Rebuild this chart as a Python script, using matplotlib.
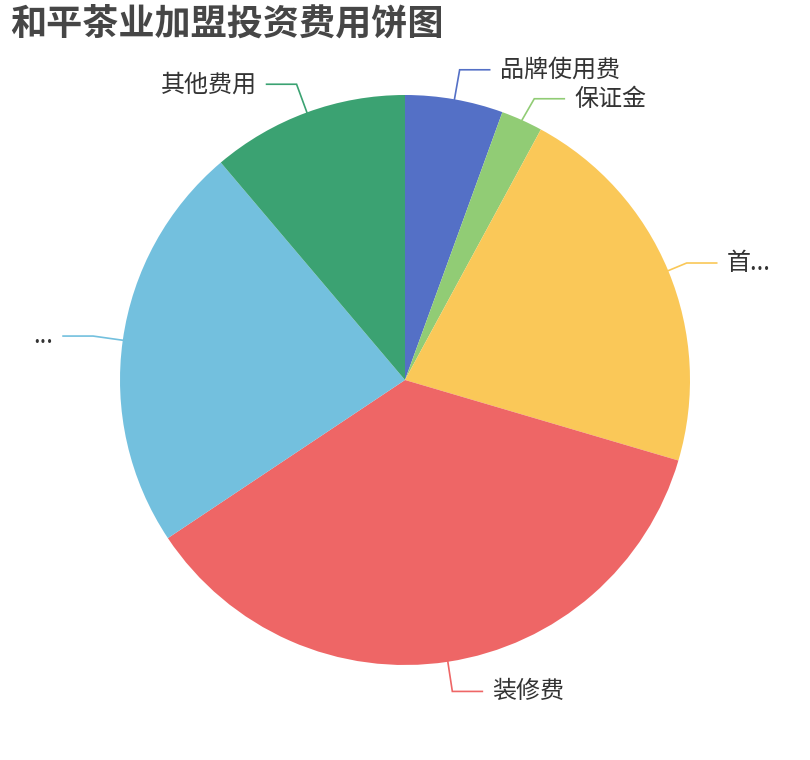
import matplotlib
matplotlib.use('Agg')
import matplotlib.pyplot as plt
import numpy as np

plt.rcParams['font.family'] = ['Noto Sans CJK SC', 'DejaVu Sans']

# slice data (clockwise from 12 o'clock)
labels = ['品牌使用费', '保证金', '首...', '装修费', '...', '其他费用']
values = [2.0, 0.85, 7.8, 13.0, 8.35, 4.03]
colors = ['#5470c6', '#91cc75', '#fac858', '#ee6666', '#73c0de', '#3ba272']
title = '和平茶业加盟投资费用饼图'

fig = plt.figure(figsize=(8.1, 7.6), dpi=100)
ax = fig.add_axes([0, 0, 1, 1])
ax.set_xlim(0, 810)
ax.set_ylim(0, 760)
ax.set_aspect('equal')
ax.axis('off')

cx, cy, r = 405, 380, 285
ax.pie(values, colors=colors, startangle=90, counterclock=False,
       center=(cx, cy), radius=r, wedgeprops=dict(linewidth=0))
ax.set_xlim(0, 810)
ax.set_ylim(0, 760)

# leader lines + labels (first segment length, vertical nudge to avoid overlap)
seg1 = {2: 20}
nudge = {1: -6}
total = sum(values)
cum = np.cumsum([0] + values)
len2, gap = 30, 10
for i, lab in enumerate(labels):
    mid = (cum[i] + cum[i + 1]) / 2 / total * 2 * np.pi  # clockwise from top
    dx, dy = np.sin(mid), np.cos(mid)
    l1 = seg1.get(i, 30)
    x0, y0 = cx + r * dx, cy + r * dy
    x1, y1 = cx + (r + l1) * dx, cy + (r + l1) * dy + nudge.get(i, 0)
    side = 1 if dx >= 0 else -1
    x2 = x1 + side * len2
    ax.plot([x0, x1, x2], [y0, y1, y1], color=colors[i], lw=1.2,
            solid_joinstyle='miter')
    ax.text(x2 + side * gap, y1, lab, fontsize=17.3, color='#333333',
            ha='left' if side > 0 else 'right', va='center')

fig.text(10 / 810, 1 - 24 / 760, title, fontsize=26, fontweight='bold',
         color='#464646', ha='left', va='center')

fig.savefig('out.png', dpi=100)
